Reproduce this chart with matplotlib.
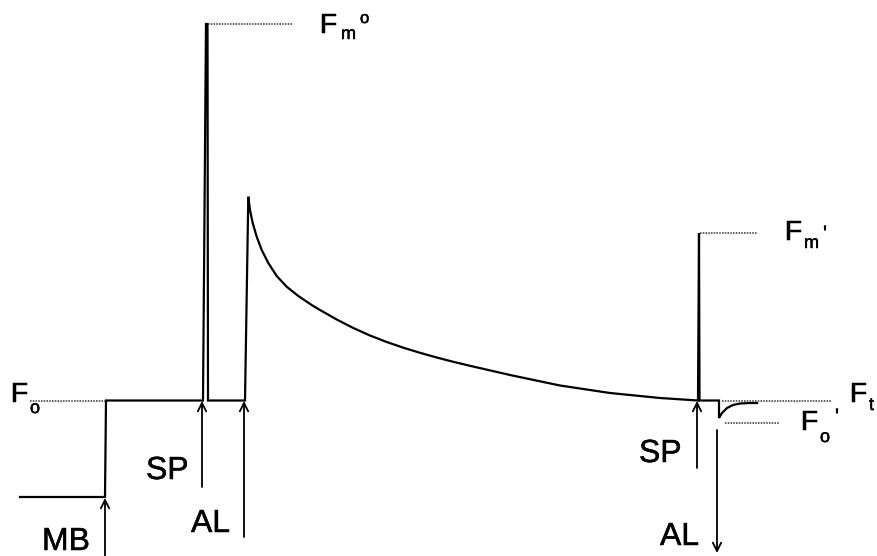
import matplotlib
matplotlib.use("Agg")
import matplotlib.pyplot as plt
import matplotlib.patheffects as pe

# ---- data (time: arbitrary units, fluorescence: arbitrary units) ----
# main fluorescence trace
trace_t = [20, 105, 106, 203, 206, 207.5, 208, 245, 248.3, 250, 252.7, 256.7, 261.7, 268.3,
           276.7, 286.7, 298.3, 311.7, 320, 336.7, 353.3, 370, 386.7, 403.3, 420, 436.7,
           453.3, 470, 510, 560, 610, 660, 698, 699, 699.5, 719, 719, 722, 727, 733, 740,
           750, 757]
trace_F = [59, 59, 155.5, 155.5, 532, 532, 155.5, 155.5, 359.3, 346, 333, 319.3, 306, 293,
           280, 269.3, 260, 251, 246, 236.5, 228, 220.5, 214, 208.3, 203.2, 198.5,
           194.2, 190.2, 181, 170.5, 163, 158, 155.5, 323, 155.5, 155.5, 138, 143, 148, 151,
           152.5, 153, 153]

# dotted reference levels: name, level, start, end
level_names = ["Fo", "Fm", "Fm'", "Ft", "Fo'"]
level_F = [155.5, 532, 323, 155.5, 133]
level_t0 = [30, 208, 700, 722, 725]
level_t1 = [106, 293, 757, 832, 779]

# event arrows: label, time, tail, head
event_names = ["MB", "SP", "AL", "SP", "AL"]
event_t = [105, 202, 244, 697, 717]
event_tail = [0, 69, 19, 88, 126]
event_head = [58, 155, 155, 155, 3]

fig = plt.figure(figsize=(8.77, 5.56), dpi=100)
ax = fig.add_axes([0, 0, 1, 1])
ax.set_xlim(0, 877)
ax.set_ylim(0, 556)
ax.axis("off")

FONT = ["Liberation Sans", "DejaVu Sans"]

ax.plot(trace_t, trace_F, color="black", lw=1.6, solid_joinstyle="miter")

for lv, a, b in zip(level_F, level_t0, level_t1):
    ax.plot([a, b], [lv, lv], color="#333333", lw=1.1, linestyle=(0, (1, 0.8)))

for t, tail, head in zip(event_t, event_tail, event_head):
    ax.annotate("", xy=(t, head), xytext=(t, tail),
                arrowprops=dict(arrowstyle="->,head_length=0.6,head_width=0.3",
                                color="black", lw=1.3, shrinkA=0, shrinkB=0))

thick = [pe.withStroke(linewidth=0.35, foreground="black")]

def T(x, ypix, s, size):
    ax.text(x, 556 - ypix, s, fontsize=size, family=FONT, ha="left", va="baseline",
            color="black", path_effects=thick)

BIG = 23
FS = 20
SUB = 13

# event labels
T(146, 479, "SP", BIG)
T(191, 532, "AL", BIG)
T(42, 550, "MB", BIG)
T(639, 462, "SP", BIG)
T(660, 545, "AL", BIG)

# level labels
T(11, 402, "F", FS); T(30, 413, "o", SUB)
T(320, 33, "F", FS); T(341, 39, "m", SUB); T(360, 23, "o", SUB - 1)
T(785, 240, "F", FS); T(804, 248, "m", SUB); T(823, 240, "'", SUB + 2)
T(850, 402, "F", FS); T(869, 410, "t", SUB)
T(801, 430, "F", FS); T(820, 442, "o", SUB); T(835, 423, "'", SUB + 2)

fig.savefig("out.png", dpi=100)
